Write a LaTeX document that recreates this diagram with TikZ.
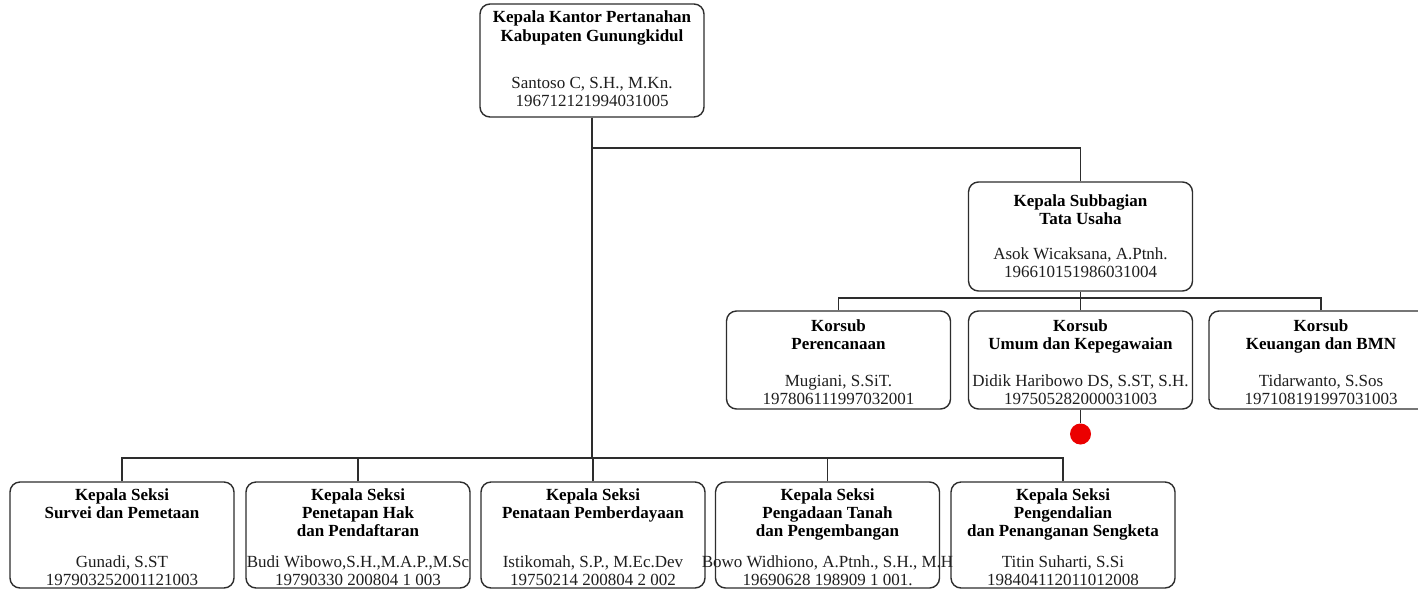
\documentclass[tikz,border=0pt]{standalone}
\usepackage{fontspec}
\setmainfont{Liberation Serif}
\usepackage{tikz}
\usetikzlibrary{positioning}
\definecolor{garis}{RGB}{45, 45, 45}
\definecolor{teks}{RGB}{30, 30, 30}
\definecolor{titikmerah}{RGB}{235, 0, 0}

\begin{document}
\begin{tikzpicture}[x=1pt, y=-1pt,
    jabatan/.style={draw=garis, line width=1.4pt, rounded corners=10pt,
                    minimum width=224pt, inner sep=0pt},
    judul/.style={font=\fontsize{17pt}{18pt}\selectfont\bfseries, align=center,
                  anchor=north, inner sep=0pt, text=black},
    nama/.style={font=\fontsize{17pt}{18pt}\selectfont, align=center,
                 anchor=south, inner sep=0pt, text=teks},
    hubung/.style={draw=garis, line width=1.3pt}]
    \useasboundingbox (0,0) rectangle (1418,590);
    \fill[white] (0,0) rectangle (1418,590);
    \clip (0,0) rectangle (1418,590);

    % kepala kantor
    \node[jabatan, minimum height=113pt] (kakan) at (592,60.5) {};
    \node[judul] (kakan-j) at (592,11) {Kepala Kantor Pertanahan\\Kabupaten Gunungkidul};
    \node[nama] (kakan-n) at (592,107) {Santoso C, S.H., M.Kn.\\196712121994031005};

    % subbagian tata usaha
    \node[jabatan, minimum height=109pt] (tu) at (1080.5,236.5) {};
    \node[judul] (tu-j) at (1080.5,194) {Kepala Subbagian\\Tata Usaha};
    \node[nama] (tu-n) at (1080.5,278) {Asok Wicaksana, A.Ptnh.\\196610151986031004};

    % korsub
    \node[jabatan, minimum height=98pt] (k1) at (838.5,360) {};
    \node[judul] (k1-j) at (838.5,319) {Korsub\\Perencanaan};
    \node[nama] (k1-n) at (838.5,405) {Mugiani, S.SiT.\\197806111997032001};

    \node[jabatan, minimum height=98pt] (k2) at (1080.5,360) {};
    \node[judul] (k2-j) at (1080.5,319) {Korsub\\Umum dan Kepegawaian};
    \node[nama] (k2-n) at (1080.5,405) {Didik Haribowo DS, S.ST, S.H.\\197505282000031003};

    \node[jabatan, minimum height=98pt] (k3) at (1321,360) {};
    \node[judul] (k3-j) at (1321,319) {Korsub\\Keuangan dan BMN};
    \node[nama] (k3-n) at (1321,405) {Tidarwanto, S.Sos\\197108191997031003};

    % kepala seksi
    \node[jabatan, minimum height=106pt] (s1) at (122,535) {};
    \node[judul] (s1-j) at (122,488) {Kepala Seksi\\Survei dan Pemetaan};
    \node[nama] (s1-n) at (122,586) {Gunadi, S.ST\\197903252001121003};

    \node[jabatan, minimum height=106pt] (s2) at (358,535) {};
    \node[judul] (s2-j) at (358,488) {Kepala Seksi\\Penetapan Hak\\dan Pendaftaran};
    \node[nama] (s2-n) at (358,586) {Budi Wibowo,S.H.,M.A.P.,M.Sc\\19790330 200804 1 003};

    \node[jabatan, minimum height=106pt] (s3) at (593,535) {};
    \node[judul] (s3-j) at (593,488) {Kepala Seksi\\Penataan Pemberdayaan};
    \node[nama] (s3-n) at (593,586) {Istikomah, S.P., M.Ec.Dev\\19750214 200804 2 002};

    \node[jabatan, minimum height=106pt] (s4) at (827.5,535) {};
    \node[judul] (s4-j) at (827.5,488) {Kepala Seksi\\Pengadaan Tanah\\dan Pengembangan};
    \node[nama] (s4-n) at (827.5,586) {Bowo Widhiono, A.Ptnh., S.H., M.H\\19690628 198909 1 001.};

    \node[jabatan, minimum height=106pt] (s5) at (1063,535) {};
    \node[judul] (s5-j) at (1063,488) {Kepala Seksi\\Pengendalian\\dan Penanganan Sengketa};
    \node[nama] (s5-n) at (1063,586) {Titin Suharti, S.Si\\198404112011012008};

    % garis
    \coordinate (cabang) at (592,148);
    \coordinate (busKorsub) at (1080.5,298);
    \coordinate (busSeksi) at (592,458);
    \draw[hubung] (kakan.south) -- (cabang) -| (tu.north);
    \draw[hubung] (kakan.south) -- (busSeksi);
    \foreach \s in {s1,s2,s3,s4,s5}
        \draw[hubung] (\s.north) |- (busSeksi);
    \draw[hubung] (tu.south) -- (busKorsub);
    \foreach \k in {k1,k2,k3}
        \draw[hubung] (\k.north) |- (busKorsub);

    \node[circle, fill=titikmerah, minimum size=21pt, inner sep=0pt] (titik) at (1080.5,434) {};
    \draw[hubung] (k2.south) -- (titik.north);
\end{tikzpicture}
\end{document}
